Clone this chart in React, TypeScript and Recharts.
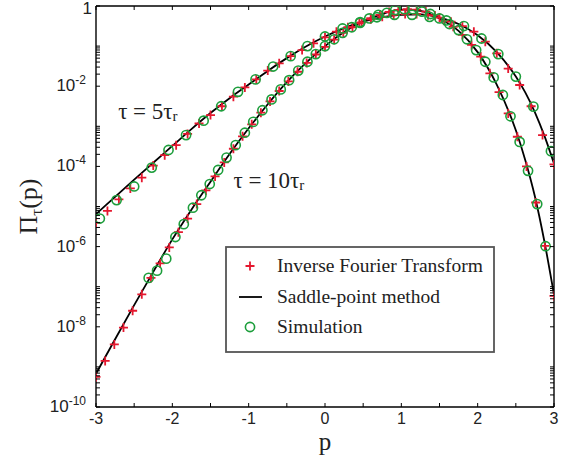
import React from 'react';
import { ComposedChart, Line, Scatter, XAxis, YAxis, Legend, ReferenceDot } from 'recharts';

// ---- data (p values and log10 of Pi_tau(p)) ----
const lineP = [-3, -2.75, -2.5, -2.25, -2, -1.75, -1.5, -1.25, -1, -0.75, -0.5, -0.25, 0, 0.25, 0.5, 0.75, 1, 1.25, 1.5, 1.75, 2, 2.25, 2.5, 2.625, 2.75, 2.875, 3];
const saddle5Exp = [-5.19, -4.76, -4.33, -3.91, -3.49, -3.07, -2.67, -2.3, -1.96, -1.62, -1.3, -1.01, -0.76, -0.55, -0.39, -0.28, -0.22, -0.21, -0.29, -0.45, -0.73, -1.15, -1.76, -2.16, -2.65, -3.24, -3.93];
const saddle10Exp = [-9.17, -8.31, -7.46, -6.63, -5.82, -5.08, -4.38, -3.69, -3.05, -2.45, -1.9, -1.42, -1.0, -0.65, -0.38, -0.2, -0.09, -0.12, -0.31, -0.62, -1.15, -1.96, -3.1, -3.85, -4.75, -5.88, -7.2];

const ift5P = [-3, -2.85, -2.7, -2.55, -2.4, -2.25, -2.1, -1.95, -1.8, -1.65, -1.5, -1.35, -1.2, -1.05, -0.9, -0.75, -0.6, -0.45, -0.3, -0.15, 0, 0.15, 0.3, 0.45, 0.6, 0.75, 0.9, 1.05, 1.2, 1.35, 1.5, 1.65, 1.8, 1.95, 2.1, 2.25, 2.4, 2.55, 2.7, 2.85, 3];
const ift5Exp = [-5.41, -5.11, -4.82, -4.55, -4.28, -3.98, -3.72, -3.47, -3.19, -2.93, -2.72, -2.5, -2.26, -2.03, -1.83, -1.61, -1.43, -1.25, -1.1, -0.93, -0.78, -0.64, -0.53, -0.43, -0.33, -0.27, -0.22, -0.2, -0.2, -0.23, -0.29, -0.39, -0.5, -0.64, -0.89, -1.18, -1.56, -1.97, -2.5, -3.22, -3.95];

const ift10P = [-3, -2.88, -2.76, -2.64, -2.52, -2.4, -2.28, -2.16, -2.04, -1.92, -1.8, -1.68, -1.56, -1.44, -1.32, -1.2, -1.08, -0.96, -0.84, -0.72, -0.6, -0.48, -0.36, -0.24, -0.12, 0, 0.12, 0.24, 0.36, 0.48, 0.6, 0.72, 0.84, 0.96, 1.08, 1.2, 1.32, 1.44, 1.56, 1.68, 1.8, 1.92, 2.04, 2.16, 2.28, 2.4, 2.52, 2.64, 2.76, 2.88, 3];
const ift10Exp = [-9.25, -8.85, -8.44, -8.02, -7.6, -7.19, -6.78, -6.42, -6.02, -5.64, -5.3, -4.94, -4.6, -4.25, -3.9, -3.56, -3.25, -2.95, -2.66, -2.38, -2.12, -1.88, -1.64, -1.42, -1.21, -1.02, -0.84, -0.67, -0.53, -0.41, -0.3, -0.22, -0.15, -0.1, -0.08, -0.09, -0.14, -0.24, -0.37, -0.52, -0.72, -0.97, -1.26, -1.68, -2.15, -2.68, -3.26, -4.0, -4.9, -5.98, -7.23];

const sim5P = [-2.95, -2.73, -2.5, -2.27, -2.05, -1.82, -1.59, -1.36, -1.14, -0.91, -0.68, -0.45, -0.23, 0, 0.23, 0.46, 0.68, 0.91, 1.14, 1.37, 1.59, 1.82, 2.05, 2.27, 2.5, 2.73, 2.96];
const sim5Exp = [-5.3, -4.84, -4.5, -4.03, -3.59, -3.22, -2.86, -2.5, -2.14, -1.83, -1.51, -1.25, -1.0, -0.76, -0.56, -0.4, -0.28, -0.22, -0.22, -0.27, -0.36, -0.5, -0.81, -1.2, -1.76, -2.51, -3.62];

const sim10P = [-2.31, -2.2, -2.08, -1.96, -1.85, -1.73, -1.62, -1.51, -1.4, -1.29, -1.17, -1.05, -0.94, -0.82, -0.7, -0.58, -0.47, -0.35, -0.23, -0.12, 0, 0.12, 0.23, 0.35, 0.46, 0.58, 0.7, 0.81, 0.92, 1.04, 1.15, 1.27, 1.38, 1.5, 1.63, 1.75, 1.86, 1.98, 2.1, 2.21, 2.33, 2.43, 2.55, 2.66, 2.78, 2.89];
const sim10Exp = [-6.78, -6.6, -6.3, -5.76, -5.44, -5.03, -4.72, -4.44, -4.09, -3.78, -3.47, -3.16, -2.89, -2.6, -2.33, -2.08, -1.85, -1.61, -1.39, -1.2, -1.0, -0.83, -0.67, -0.53, -0.42, -0.31, -0.22, -0.17, -0.1, -0.08, -0.08, -0.14, -0.2, -0.31, -0.45, -0.6, -0.83, -1.1, -1.39, -1.78, -2.22, -2.75, -3.39, -4.11, -4.94, -5.99];

const xTicks = [-3, -2.5, -2, -1.5, -1, -0.5, 0, 0.5, 1, 1.5, 2, 2.5, 3];
const yDecadeExps = [0, -1, -2, -3, -4, -5, -6, -7, -8, -9, -10];
const yMinorDecadeExps = [-2, -4, -6, -8, -10];
const yMinorMantissas = [2, 3, 4, 5, 6, 7, 8, 9];
const legendLabels = ['Inverse Fourier Transform', 'Saddle-point method', 'Simulation'];
const curveLabels = [
  { text: 'τ = 5τ', sub: 'r', p: -2.71, exp: -2.82 },
  { text: 'τ = 10τ', sub: 'r', p: -1.2, exp: -4.54 },
];
const xTitle = 'p';

// ---- styles ----
const RED = '#e5182f';
const GREEN = '#1d9e3c';
const SANS = '"Liberation Sans", Arial, sans-serif';
const SERIF = '"Liberation Serif", "Times New Roman", serif';

const toRows = (ps: number[], exps: number[]) => ps.map((p, i) => ({ p, v: Math.pow(10, exps[i]) }));
const saddle5 = toRows(lineP, saddle5Exp);
const saddle10 = toRows(lineP, saddle10Exp);
const ift5 = toRows(ift5P, ift5Exp);
const ift10 = toRows(ift10P, ift10Exp);
const sim5 = toRows(sim5P, sim5Exp);
const sim10 = toRows(sim10P, sim10Exp);

const yTicks = [
  ...yDecadeExps.map((e) => Math.pow(10, e)),
  ...yMinorDecadeExps.flatMap((e) => yMinorMantissas.map((m) => m * Math.pow(10, e))),
].sort((a, b) => a - b);

const TL = 4;

const LeftTick = (props: any) => {
  const { x, y, payload } = props;
  const v = payload.value;
  const e = Math.log10(v);
  const re = Math.round(e);
  const isDecade = Math.abs(e - re) < 1e-6;
  const labelled = isDecade && re % 2 === 0;
  return (
    <g>
      <line x1={x} x2={x + TL} y1={y} y2={y} stroke="#000" strokeWidth={1} />
      {labelled && re === 0 && (
        <text x={x - 4} y={y + 7.5} textAnchor="end" fontFamily={SANS} fontSize={17} fill="#222">1</text>
      )}
      {labelled && re !== 0 && (
        <text x={x - 10} y={y + 5} textAnchor="end" fontFamily={SANS} fontSize={17} fill="#222">
          10<tspan dy={-7} fontSize={12}>{String(re)}</tspan>
        </text>
      )}
    </g>
  );
};

const RightTick = (props: any) => {
  const { x, y } = props;
  return <line x1={x} x2={x - TL} y1={y} y2={y} stroke="#000" strokeWidth={1} />;
};

const BottomTick = (props: any) => {
  const { x, y, payload } = props;
  const v = payload.value;
  return (
    <g>
      <line x1={x} x2={x} y1={y} y2={y - TL} stroke="#000" strokeWidth={1} />
      {Number.isInteger(v) && (
        <text x={x} y={y + 17} textAnchor="middle" fontFamily={SANS} fontSize={16} fill="#222">{String(v)}</text>
      )}
    </g>
  );
};

const TopTick = (props: any) => {
  const { x, y } = props;
  return <line x1={x} x2={x} y1={y} y2={y + TL} stroke="#000" strokeWidth={1} />;
};

const PlusShape = (props: any) => {
  const { cx, cy } = props;
  if (cx == null || cy == null) return <g />;
  const s = 4.5;
  return <path d={`M${cx - s},${cy}H${cx + s}M${cx},${cy - s}V${cy + s}`} stroke={RED} strokeWidth={1.8} fill="none" />;
};

const CircleShape = (props: any) => {
  const { cx, cy } = props;
  if (cx == null || cy == null) return <g />;
  return <circle cx={cx} cy={cy} r={4.6} stroke={GREEN} strokeWidth={1.6} fill="none" />;
};

const makeCurveLabel = (text: string, sub: string) => (props: any) => {
  const { cx, cy } = props;
  if (cx == null || cy == null) return <g />;
  return (
    <text x={cx} y={cy} fontFamily={SERIF} fontSize={23} fill="#222">
      {text}
      <tspan dy={2} fontSize={15}>{sub}</tspan>
    </text>
  );
};

const YTitle = (props: any) => {
  const vb = props.viewBox || {};
  const cx = (vb.x || 0) + 37;
  const cy = (vb.y || 0) + (vb.height || 0) / 2;
  return (
    <text x={cx} y={cy} transform={`rotate(-90, ${cx}, ${cy})`} textAnchor="middle" fontFamily={SERIF} fontSize={26} fill="#222">
      Π<tspan dy={5} fontSize={17}>τ</tspan>
      <tspan dy={-5}>(p)</tspan>
    </text>
  );
};

const XTitle = (props: any) => {
  const vb = props.viewBox || {};
  const cx = (vb.x || 0) + (vb.width || 0) / 2;
  const cy = (vb.y || 0) + 43;
  return (
    <text x={cx} y={cy} textAnchor="middle" fontFamily={SERIF} fontSize={25} fill="#222">{xTitle}</text>
  );
};

const LegendBox = () => (
  <svg width={270} height={108} style={{ display: 'block' }}>
    <rect x={1} y={1} width={268} height={105} fill="#fff" stroke="#555" strokeWidth={1.8} />
    <path d="M20.5,20H29.5M25,15.5V24.5" stroke={RED} strokeWidth={1.8} fill="none" />
    <line x1={14} x2={37} y1={51} y2={51} stroke="#000" strokeWidth={1.8} />
    <circle cx={25} cy={81} r={4.6} stroke={GREEN} strokeWidth={1.6} fill="none" />
    {legendLabels.map((l, i) => (
      <text key={l} x={52} y={26 + i * 30.5} fontFamily={SERIF} fontSize={19.5} fill="#222">{l}</text>
    ))}
  </svg>
);

export default function App() {
  return (
    <div style={{ position: 'absolute', left: 0, top: 0, width: 570, height: 465, background: '#fff' }}>
      <ComposedChart width={570} height={465} margin={{ top: 0, right: 0, bottom: 0, left: 0 }}>
        <XAxis
          dataKey="p"
          type="number"
          domain={[-3, 3]}
          ticks={xTicks}
          interval={0}
          allowDataOverflow
          height={58}
          tickSize={0}
          tickMargin={0}
          tick={BottomTick}
          axisLine={{ stroke: '#000', strokeWidth: 1.4 }}
          label={{ content: XTitle }}
        />
        <XAxis
          xAxisId="top"
          orientation="top"
          dataKey="p"
          type="number"
          domain={[-3, 3]}
          ticks={xTicks}
          interval={0}
          allowDataOverflow
          height={6}
          tickSize={0}
          tickMargin={0}
          tick={TopTick}
          axisLine={{ stroke: '#000', strokeWidth: 1.4 }}
        />
        <YAxis
          type="number"
          scale="log"
          domain={[1e-10, 1]}
          ticks={yTicks}
          interval={0}
          allowDataOverflow
          width={96}
          tickSize={0}
          tickMargin={0}
          tick={LeftTick}
          axisLine={{ stroke: '#000', strokeWidth: 1.4 }}
          label={{ content: YTitle }}
        />
        <YAxis
          yAxisId="right"
          orientation="right"
          type="number"
          scale="log"
          domain={[1e-10, 1]}
          ticks={yTicks}
          interval={0}
          allowDataOverflow
          width={16}
          tickSize={0}
          tickMargin={0}
          tick={RightTick}
          axisLine={{ stroke: '#000', strokeWidth: 1.4 }}
        />
        <Scatter name={legendLabels[0]} data={ift5} dataKey="v" shape={PlusShape} isAnimationActive={false} />
        <Scatter name={legendLabels[0] + ' 10'} data={ift10} dataKey="v" shape={PlusShape} isAnimationActive={false} />
        <Line name={legendLabels[1]} data={saddle5} dataKey="v" type="monotone" stroke="#000" strokeWidth={1.8} dot={false} isAnimationActive={false} />
        <Line name={legendLabels[1] + ' 10'} data={saddle10} dataKey="v" type="monotone" stroke="#000" strokeWidth={1.8} dot={false} isAnimationActive={false} />
        <Scatter name={legendLabels[2]} data={sim5} dataKey="v" shape={CircleShape} isAnimationActive={false} />
        <Scatter name={legendLabels[2] + ' 10'} data={sim10} dataKey="v" shape={CircleShape} isAnimationActive={false} />
        {curveLabels.map((c) => (
          <ReferenceDot key={c.text} x={c.p} y={Math.pow(10, c.exp)} r={0} ifOverflow="visible" shape={makeCurveLabel(c.text, c.sub)} />
        ))}
        <Legend
          layout="vertical"
          align="center"
          verticalAlign="middle"
          wrapperStyle={{ left: 225, top: 246, width: 270, height: 108 }}
          content={() => <LegendBox />}
        />
      </ComposedChart>
    </div>
  );
}
